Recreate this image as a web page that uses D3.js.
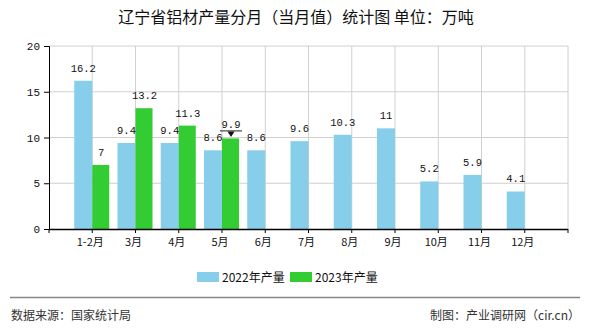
<!DOCTYPE html>
<html><head><meta charset="utf-8">
<script src="https://cdn.jsdelivr.net/npm/d3@7"></script>
<style>body{margin:0;background:#fff}</style>
</head><body>
<svg id="c" width="590" height="330"></svg>
<script>
const categories = ["1-2月","3月","4月","5月","6月","7月","8月","9月","10月","11月","12月"];
const values2022 = [16.2, 9.4, 9.4, 8.6, 8.6, 9.6, 10.3, 11, 5.2, 5.9, 4.1];
const values2023 = [7, 13.2, 11.3, 9.9];
const yTicks = [0, 5, 10, 15, 20];
const seriesNames = ["2022年产量", "2023年产量"];
const colors = ["#87CEEB", "#33CC33"];

const svg = d3.select("#c");
const L = 49, R = 568, T = 46, B = 229;
const slot = (R - L) / 12;
const x = d3.scalePoint().domain(categories).range([L + slot, R - slot]);
const y = d3.scaleLinear().domain([0, 20]).range([B, T]);
const bw = 18;
const cjk = "'Noto Sans CJK SC', sans-serif";
const mono = "'Liberation Mono','DejaVu Sans Mono', monospace";

// title
svg.append("text").attr("x", 296).attr("y", 23).attr("text-anchor", "middle")
  .attr("font-family", cjk).attr("font-size", 16).attr("fill", "#111")
  .text("辽宁省铝材产量分月（当月值）统计图 单位：万吨");

// gridlines
const g = svg.append("g");
yTicks.filter(d => d > 0).forEach(v => {
  g.append("line").attr("x1", L).attr("x2", R).attr("y1", y(v)).attr("y2", y(v))
    .attr("stroke", "#d0d0d0").attr("stroke-width", 1);
});
categories.forEach(c => {
  g.append("line").attr("x1", x(c)).attr("x2", x(c)).attr("y1", T).attr("y2", B)
    .attr("stroke", "#d0d0d0").attr("stroke-width", 1);
});
g.append("line").attr("x1", R).attr("x2", R).attr("y1", T).attr("y2", B)
  .attr("stroke", "#d0d0d0").attr("stroke-width", 1);

// bars
svg.append("g").selectAll("rect").data(values2022).join("rect")
  .attr("x", (d, i) => x(categories[i]) - bw).attr("y", d => y(d))
  .attr("width", bw).attr("height", d => B - y(d)).attr("fill", colors[0]);
svg.append("g").selectAll("rect").data(values2023).join("rect")
  .attr("x", (d, i) => x(categories[i])).attr("y", d => y(d))
  .attr("width", bw - 1).attr("height", d => B - y(d)).attr("fill", colors[1]);

const li = values2023.length - 1;

// value labels
svg.append("g").selectAll("text").data(values2022).join("text")
  .attr("x", (d, i) => x(categories[i]) - bw / 2).attr("y", d => y(d) - 9)
  .attr("text-anchor", "middle").attr("font-family", mono).attr("font-size", 10.5)
  .attr("fill", "#111").text(d => d);
svg.append("g").selectAll("text").data(values2023).join("text")
  .attr("x", (d, i) => x(categories[i]) + bw / 2).attr("y", (d, i) => y(d) - (i === li ? 10.5 : 9))
  .attr("text-anchor", "middle").attr("font-family", mono).attr("font-size", 10.5)
  .attr("fill", "#111").text(d => d);

// marker on last 2023 value
const mx = x(categories[li]) + bw / 2, my = y(values2023[li]) - 7.5;
svg.append("line").attr("x1", mx - 11).attr("x2", mx + 11).attr("y1", my).attr("y2", my)
  .attr("stroke", "#222").attr("stroke-width", 1);
svg.append("path").attr("d", `M${mx-3.5},${my+0.5}L${mx+3.5},${my+0.5}L${mx},${my+6}Z`).attr("fill", "#111");

// axes
const ya = svg.append("g").attr("transform", `translate(${L},0)`)
  .call(d3.axisLeft(y).tickValues(yTicks).tickSize(5).tickPadding(4));
ya.select(".domain").attr("stroke", "#000");
ya.selectAll("text").attr("font-family", mono).attr("font-size", 11).attr("fill", "#111");
svg.append("line").attr("x1", L).attr("x2", R).attr("y1", B + 0.5).attr("y2", B + 0.5)
  .attr("stroke", "#000").attr("stroke-width", 1.5);
[L, ...categories.map(c => x(c)), R].forEach(px => {
  svg.append("line").attr("x1", px).attr("x2", px).attr("y1", B).attr("y2", B + 4)
    .attr("stroke", "#000");
});
svg.append("g").selectAll("text").data(categories).join("text")
  .attr("x", d => x(d) - 2).attr("y", B + 17).attr("text-anchor", "middle")
  .attr("font-family", cjk).attr("font-size", 11).attr("fill", "#111").text(d => d);

// legend
const lg = [{x: 197, name: seriesNames[0], c: colors[0]}, {x: 290, name: seriesNames[1], c: colors[1]}];
lg.forEach(o => {
  svg.append("rect").attr("x", o.x).attr("y", 272).attr("width", 22).attr("height", 10).attr("fill", o.c);
  svg.append("text").attr("x", o.x + 25).attr("y", 281.5).attr("font-family", cjk)
    .attr("font-size", 12).attr("fill", "#111").text(o.name);
});

// footer
svg.append("line").attr("x1", 10).attr("x2", 580).attr("y1", 297.5).attr("y2", 297.5)
  .attr("stroke", "#888").attr("stroke-width", 1.5);
svg.append("text").attr("x", 11).attr("y", 320).attr("font-family", cjk).attr("font-size", 12)
  .attr("fill", "#333").text("数据来源：国家统计局");
svg.append("text").attr("x", 580).attr("y", 320).attr("text-anchor", "end").attr("font-family", cjk)
  .attr("font-size", 12).attr("fill", "#333").text("制图：产业调研网（cir.cn）");
</script>
</body></html>
